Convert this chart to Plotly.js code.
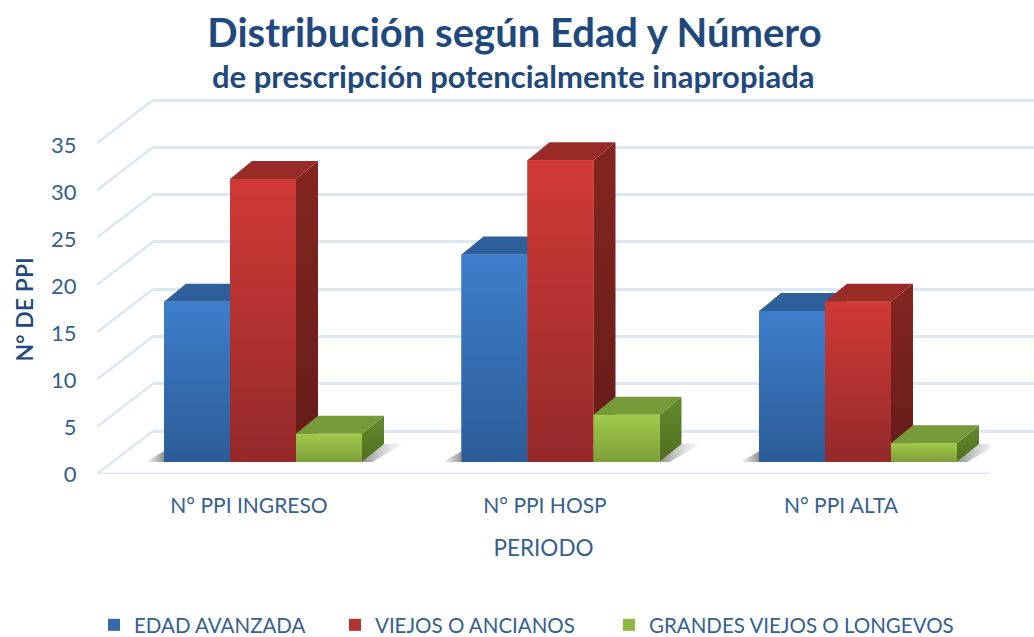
<!DOCTYPE html>
<html><head><meta charset="utf-8">
<script src="https://cdn.plot.ly/plotly-3.0.1.min.js"></script>
<style>html,body{margin:0;padding:0;background:#fff}#c{width:1034px;height:637px}</style></head>
<body><div id="c"></div><script>
const categories = ['N° PPI INGRESO','N° PPI HOSP','N° PPI ALTA'];
const edadAvanzada = [17,22,16];
const viejosAncianos = [30,32,17];
const grandesViejos = [3,5,2];
const seriesNames = ['EDAD AVANZADA','VIEJOS O ANCIANOS','GRANDES VIEJOS O LONGEVOS'];
const yTicks = [0,5,10,15,20,25,30,35];

const W=1034,H=637;
const fx=p=>p/W, fy=p=>1-p/H;
const NAVY='#1f497d', TXT='#34608f', GRID='#dce7f4';
const FONT='Lato, Carlito, "Open Sans", sans-serif';

const spacing=297.5, c0=263, barW=66/spacing;
const toI=p=>(p-c0)/spacing;
const lblI=p=>(p-249)/296;
const depthX=22/spacing, depthY=18/9.43;

const palette=[
 {front:['#2c5c98','#3d7ecb'],flat:'#3569ad',top:'#2d5f9b',side:['#234a7c','#2d5f9b']},
 {front:['#94292a','#d03a36'],flat:'#b53230',top:'#992b28',side:['#641b1a','#84261f']},
 {front:['#7d9f3a','#a2ca4b'],flat:'#8fb543',top:'#76993a',side:['#4f6e1f','#668a2f']}
];
const values=[edadAvanzada,viejosAncianos,grandesViejos];
const traces=[];

// floor front edge
traces.push({type:'scatter',mode:'lines',x:[lblI(97),lblI(990)],y:[0,0],xaxis:'x',yaxis:'y',line:{color:GRID,width:2.5},showlegend:false,hoverinfo:'skip',cliponaxis:false});

// back wall base line
traces.push({type:'scatter',mode:'lines',x:[toI(153),toI(1034)],y:[0,0],xaxis:'x2',yaxis:'y2',line:{color:GRID,width:2.5},showlegend:false,hoverinfo:'skip'});

// side wall diagonals
const wallScale=331/35, wallDrop=43/wallScale;
yTicks.forEach(v=>{
  traces.push({type:'scatter',mode:'lines',x:[0,1],y:[v-wallDrop,v],xaxis:'x5',yaxis:'y5',
    line:{color:GRID,width:2.5},showlegend:false,hoverinfo:'skip',cliponaxis:false});
});

const leftOf=(i,s)=>i-1.5*barW+s*barW;
// shadows
categories.forEach((c,i)=>{
  const l=leftOf(i,0), r=leftOf(i,3), d=21/spacing;
  traces.push({type:'scatter',mode:'lines',line:{width:0},fill:'toself',x:[l-d,l,l],y:[-0.15,depthY*0.6,0],xaxis:'x3',yaxis:'y3',
    fillcolor:'rgba(0,0,0,0.2)',fillgradient:{type:'horizontal',colorscale:[[0,'rgba(120,120,120,0)'],[1,'rgba(70,70,70,0.6)']]},showlegend:false,hoverinfo:'skip'});
  traces.push({type:'scatter',mode:'lines',line:{width:0},fill:'toself',x:[r,r+depthX,r+depthX+d,r+d*0.4],y:[0,depthY,depthY+0.1,-0.1],xaxis:'x3',yaxis:'y3',
    fillcolor:'rgba(0,0,0,0.2)',fillgradient:{type:'horizontal',colorscale:[[0,'rgba(70,70,70,0.6)'],[1,'rgba(160,160,160,0)']]},showlegend:false,hoverinfo:'skip'});
  traces.push({type:'scatter',mode:'lines',line:{width:0},fill:'toself',x:[l-d*0.3,r+d*0.2,r+d*0.2,l-d*0.3],y:[0,0,-0.42,-0.42],xaxis:'x3',yaxis:'y3',
    fillcolor:'rgba(0,0,0,0.2)',fillgradient:{type:'vertical',colorscale:[[0,'rgba(170,170,170,0.1)'],[1,'rgba(110,110,110,0.75)']]},showlegend:false,hoverinfo:'skip',cliponaxis:false});
});
// top and side faces, back to front
values.forEach((vals,s)=>{
  vals.forEach((v,i)=>{
    const l=leftOf(i,s), r=l+barW;
    traces.push({type:'scatter',mode:'lines',line:{width:0},fill:'toself',x:[r,r,r+depthX,r+depthX],y:[0,v,v+depthY,depthY],xaxis:'x3',yaxis:'y3',
      fillcolor:palette[s].side[1],fillgradient:{type:'vertical',colorscale:[[0,palette[s].side[0]],[1,palette[s].side[1]]]},showlegend:false,hoverinfo:'skip'});
    traces.push({type:'scatter',mode:'lines',line:{width:0},fill:'toself',x:[l,r,r+depthX,l+depthX],y:[v,v,v+depthY,v+depthY],xaxis:'x3',yaxis:'y3',
      fillcolor:palette[s].top,showlegend:false,hoverinfo:'skip'});
  });
});
// real bars (front faces)
values.forEach((vals,s)=>{
  traces.push({type:'bar',name:seriesNames[s],x:[0,1,2],y:vals,xaxis:'x4',yaxis:'y4',
    marker:{color:palette[s].flat,line:{width:0}},legend:s?('legend'+(s+1)):'legend',
    hovertext:categories,hoverinfo:'text+y+name'});
});
// gradient sheen on the front faces
values.forEach((vals,s)=>{
  vals.forEach((v,i)=>{
    const l=leftOf(i,s), r=l+barW;
    traces.push({type:'scatter',mode:'lines',line:{width:0},fill:'toself',x:[l,r,r,l],y:[0,0,v,v],xaxis:'x4',yaxis:'y4',
      fillcolor:palette[s].flat,fillgradient:{type:'vertical',colorscale:[[0,palette[s].front[0]],[1,palette[s].front[1]]]},showlegend:false,hoverinfo:'skip'});
  });
});

const hiddenAx=(extra)=>Object.assign({showgrid:false,zeroline:false,showline:false,showticklabels:false,ticks:'',fixedrange:true},extra);
const mainDomX=[fx(97),fx(990)];
const barDomY=[fy(462),fy(462-35*9.43)];
const legendCommon=(x)=>({orientation:'h',x:fx(x),y:fy(625),xanchor:'left',yanchor:'middle',bgcolor:'rgba(0,0,0,0)',
   font:{family:FONT,size:20.5,color:TXT},itemclick:false,itemdoubleclick:false});

const layout={
  width:W,height:H,margin:{l:0,r:0,t:0,b:0,pad:0,autoexpand:false},paper_bgcolor:'#fff',plot_bgcolor:'rgba(0,0,0,0)',
  font:{family:FONT,color:TXT},
  bargap:1-3*barW,bargroupgap:0,barmode:'group',
  title:{text:'Distribución según Edad y Número',x:514.5/W,xanchor:'center',y:fy(33),yanchor:'middle',
    font:{family:FONT,size:40,color:NAVY,weight:700}},
  annotations:[{text:'de prescripción potencialmente inapropiada',xref:'paper',yref:'paper',x:fx(512.5),y:fy(76),xanchor:'center',yanchor:'middle',
    showarrow:false,font:{family:FONT,size:31,color:NAVY,weight:700}}],
  xaxis:{domain:mainDomX,range:[lblI(97),lblI(990)],tickmode:'array',tickvals:[0,1,2],ticktext:categories,anchor:'y',
    showgrid:false,zeroline:false,showline:false,ticks:'outside',ticklen:13,tickcolor:'rgba(0,0,0,0)',
    tickfont:{family:FONT,size:21,color:TXT},fixedrange:true,
    title:{text:'PERIODO',standoff:24,font:{family:FONT,size:22.5,color:TXT}}},
  yaxis:{domain:[fy(474),fy(145)],range:[0,35],tickmode:'array',tickvals:yTicks,anchor:'x',
    showgrid:false,zeroline:false,showline:false,ticks:'outside',ticklen:15,tickcolor:'rgba(0,0,0,0)',
    tickfont:{family:FONT,size:22,color:TXT},fixedrange:true,
    title:{text:'N° DE PPI',standoff:11,font:{family:FONT,size:23,color:NAVY,weight:600}}},
  xaxis2:hiddenAx({domain:[fx(153),1],range:[toI(153),toI(1034)],anchor:'y2'}),
  yaxis2:{domain:[fy(431+0.5*wallScale),fy(100-0.5*wallScale)],range:[-0.5,35.5],tickmode:'array',tickvals:yTicks,anchor:'x2',showgrid:true,gridcolor:GRID,gridwidth:2.5,
    zeroline:false,showline:false,showticklabels:false,ticks:'',fixedrange:true},
  xaxis3:hiddenAx({domain:mainDomX,range:[toI(97),toI(990)],anchor:'y3'}),
  yaxis3:hiddenAx({domain:barDomY,range:[0,35],anchor:'x3'}),
  xaxis4:hiddenAx({domain:mainDomX,range:[toI(97),toI(990)],anchor:'y4'}),
  yaxis4:hiddenAx({domain:barDomY,range:[0,35],anchor:'x4'}),
  xaxis5:hiddenAx({domain:[fx(97),fx(153)],range:[0,1],anchor:'y5'}),
  yaxis5:hiddenAx({domain:[fy(474),fy(100)],range:[-wallDrop,35],anchor:'x5'}),
  legend:legendCommon(94),legend2:legendCommon(335),legend3:legendCommon(609),
  showlegend:true
};
Plotly.newPlot('c',traces,layout,{displayModeBar:false,responsive:false});
</script></body></html>
